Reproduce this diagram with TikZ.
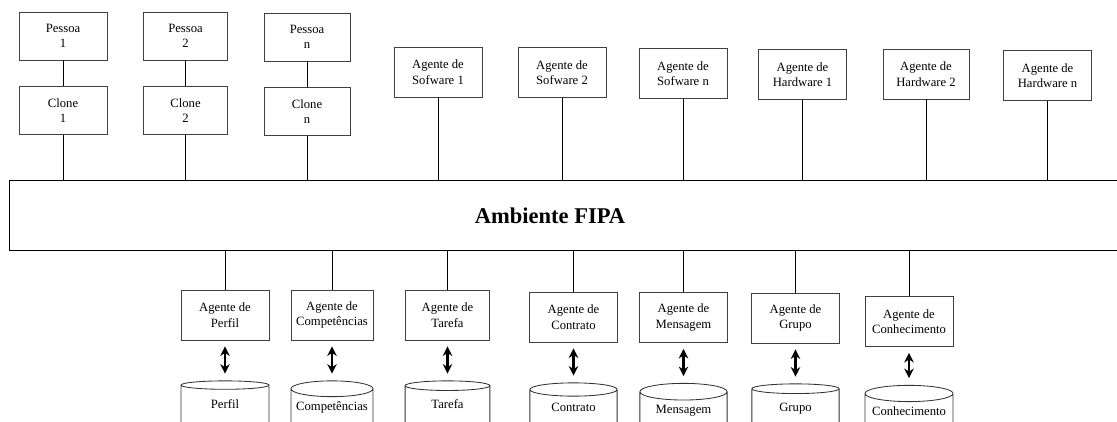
\documentclass[tikz,border=0pt]{standalone}
\usepackage{fontspec}
\setmainfont{Liberation Serif}
\usetikzlibrary{arrows.meta,positioning,shapes.geometric}

\begin{document}
\begin{tikzpicture}[x=0.025cm, y=-0.025cm, node distance=0.65cm]
\tikzstyle{ag}=[draw=black!75, line width=0.6pt, minimum width=2.2cm,
  minimum height=1.25cm, align=center, font=\fontsize{9}{11}\selectfont, inner sep=2pt]
\tikzstyle{db}=[draw=black!80, line width=0.6pt, cylinder, shape border rotate=90, aspect=0.3,
  minimum width=2.2cm, minimum height=1.45cm, inner xsep=0pt, text depth=0.4cm,
  font=\fontsize{9}{11}\selectfont]
\tikzstyle{ln}=[line width=0.6pt]
\tikzstyle{dbl}=[{Stealth[length=2.4mm,width=2.4mm]}-{Stealth[length=2.4mm,width=2.4mm]},
  line width=1.6pt, shorten <=0.15cm, shorten >=0.17cm]
\clip (0,0) rectangle (1117,421);
% pessoas e clones
\node[ag, minimum height=1.2cm] (p1) at (63,36) {Pessoa\\1};
\node[ag, minimum height=1.2cm, below=of p1] (c1) {Clone\\1};
\node[ag, minimum height=1.2cm, minimum width=2.12cm] (p2) at (185.5,36) {Pessoa\\2};
\node[ag, minimum height=1.2cm, minimum width=2.12cm, below=of p2] (c2) {Clone\\2};
\node[ag, minimum height=1.2cm, minimum width=2.15cm] (pn) at (307,37) {Pessoa\\n};
\node[ag, minimum height=1.2cm, minimum width=2.15cm, below=of pn] (cn) {Clone\\n};
\draw[ln] (p1) -- (c1);
\draw[ln] (p2) -- (c2);
\draw[ln] (pn) -- (cn);
% agentes de software e hardware
\node[ag] (s1) at (438,72) {Agente de\\Sofware 1};
\node[ag] (s2) at (562,72.5) {Agente de\\Sofware 2};
\node[ag] (sn) at (683,73.5) {Agente de\\Sofware n};
\node[ag] (h1) at (802.5,74.5) {Agente de\\Hardware 1};
\node[ag, minimum width=2.15cm] (h2) at (926,74) {Agente de\\Hardware 2};
\node[ag, minimum width=2.18cm] (hn) at (1047.5,75.5) {Agente de\\Hardware n};
% ambiente
\node[font=\fontsize{16}{19}\selectfont\bfseries, minimum width=27cm, minimum height=1.725cm,
  inner sep=0pt] (amb) at (550,215.5) {Ambiente FIPA};
\coordinate (re) at (1130,0);
\draw[ln] (amb.north west -| re) -- (amb.north west) -- (amb.south west) -- (amb.south west -| re);
\draw[ln] (c1) -- (c1 |- amb.north);
\draw[ln] (c2) -- (c2 |- amb.north);
\draw[ln] (cn) -- (cn |- amb.north);
\draw[ln] (s1) -- (s1 |- amb.north);
\draw[ln] (s2) -- (s2 |- amb.north);
\draw[ln] (sn) -- (sn |- amb.north);
\draw[ln] (h1) -- (h1 |- amb.north);
\draw[ln] (h2) -- (h2 |- amb.north);
\draw[ln] (hn) -- (hn |- amb.north);
% agentes de servico e bases
\node[ag] (aper) at (225,315) {Agente de\\Perfil};
\node[ag, minimum width=2.05cm] (acom) at (332,315) {Agente de\\Competências};
\node[ag, minimum width=2.12cm] (atar) at (447.5,315) {Agente de\\Tarefa};
\node[ag, minimum width=2.18cm] (acon) at (573.5,317) {Agente de\\Contrato};
\node[ag, minimum width=2.18cm] (amen) at (683.5,317.5) {Agente de\\Mensagem};
\node[ag, minimum width=2.18cm] (agru) at (795.5,318) {Agente de\\Grupo};
\node[ag] (acnh) at (909,321.5) {Agente de\\Conhecimento};
\node[db, below=1cm of aper] (dper) {Perfil};
\node[db, minimum width=2.05cm, aspect=0.22, below=1cm of acom] (dcom) {Competências};
\node[db, minimum width=2.12cm, below=1cm of atar] (dtar) {Tarefa};
\node[db, minimum width=2.18cm, below=1cm of acon] (dcon) {Contrato};
\node[db, minimum width=2.18cm, below=1cm of amen] (dmen) {Mensagem};
\node[db, minimum width=2.18cm, below=1cm of agru] (dgru) {Grupo};
\node[db, aspect=0.22, below=0.95cm of acnh] (dcnh) {Conhecimento};
\draw[ln] (aper) -- (aper |- amb.south);
\draw[ln] (acom) -- (acom |- amb.south);
\draw[ln] (atar) -- (atar |- amb.south);
\draw[ln] (acon) -- (acon |- amb.south);
\draw[ln] (amen) -- (amen |- amb.south);
\draw[ln] (agru) -- (agru |- amb.south);
\draw[ln] (acnh) -- (acnh |- amb.south);
\draw[dbl] (aper) -- (dper);
\draw[dbl] (acom) -- (dcom);
\draw[dbl] (atar) -- (dtar);
\draw[dbl] (acon) -- (dcon);
\draw[dbl] (amen) -- (dmen);
\draw[dbl] (agru) -- (dgru);
\draw[dbl] (acnh) -- (dcnh);
\end{tikzpicture}
\end{document}
